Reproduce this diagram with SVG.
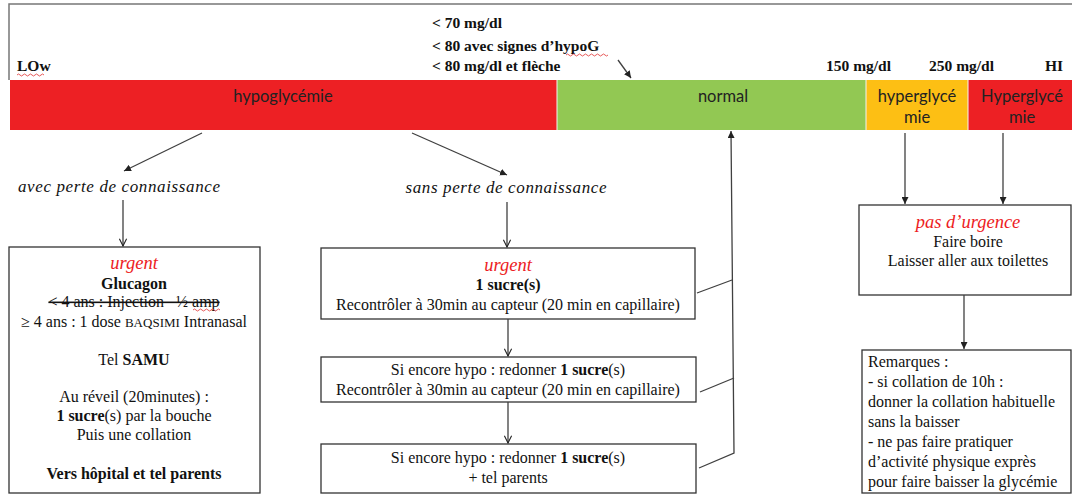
<svg xmlns="http://www.w3.org/2000/svg" width="1072" height="498" viewBox="0 0 1072 498">
<style>
.lbl{font-family:"Liberation Serif",serif;font-size:15.5px;font-weight:bold;fill:#111}
.bar{font-family:Lato,"Liberation Sans",sans-serif;font-size:16.5px;fill:#222;text-anchor:middle}
.it{font-family:"Liberation Serif",serif;font-size:17px;font-style:italic;fill:#111;text-anchor:middle}
.t{font-family:"Liberation Serif",serif;font-size:16px;fill:#111;text-anchor:middle}
.tl{font-family:"Liberation Serif",serif;font-size:16px;fill:#111}
.red{font-family:"Liberation Serif",serif;font-size:18.5px;font-style:italic;fill:#ED1C24;text-anchor:middle}
.b{font-weight:bold}
.box{fill:#fff;stroke:#333;stroke-width:1.3}
.c{fill:none;stroke:#404040;stroke-width:1.3}
.wavy{fill:none;stroke:#E03030;stroke-width:0.8}
</style>
<defs>
<marker id="fa" viewBox="0 0 8 8" refX="8" refY="4" markerWidth="7" markerHeight="7" markerUnits="userSpaceOnUse" orient="auto"><path d="M0,0 L8,4 L0,8 z" fill="#222"/></marker>
<marker id="oa" viewBox="0 0 10 10" refX="9" refY="5" markerWidth="9" markerHeight="9" markerUnits="userSpaceOnUse" orient="auto"><path d="M1,1 L9,5 L1,9" fill="none" stroke="#222" stroke-width="1.2"/></marker>
</defs>
<rect width="1072" height="498" fill="#fff"/>
<path d="M9,80 V4 H1072" fill="none" stroke="#777" stroke-width="1.5"/>

<g id="scale-labels">
<text class="lbl" x="432" y="28">&lt; 70 mg/dl</text>
<text class="lbl" x="432" y="51">&lt; 80 avec signes d’hypoG</text>
<text class="lbl" x="432" y="71">&lt; 80 mg/dl et flèche</text>
<text class="lbl" x="17" y="71">LOw</text>
<text class="lbl" x="826" y="71">150 mg/dl</text>
<text class="lbl" x="929" y="71">250 mg/dl</text>
<text class="lbl" x="1045" y="71">HI</text>
<path class="wavy" d="M17,75 q1.5,-2 3,0 t3,0 t3,0 t3,0 t3,0 t3,0 t3,0 t3,0 t3,0"/>
<path class="wavy" d="M566,55 q1.5,-2 3,0 t3,0 t3,0 t3,0 t3,0 t3,0 t3,0 t3,0 t3,0 t3,0 t3,0 t3,0 t3,0 t3,0"/>
</g>

<g id="bar">
<rect x="10" y="80" width="547" height="50" fill="#ED2024"/>
<rect x="557" y="80" width="309" height="50" fill="#92C853"/>
<rect x="866" y="80" width="102" height="50" fill="#FDBF14"/>
<rect x="968" y="80" width="104" height="50" fill="#ED2024"/>
<path d="M557,80 V130 M866,80 V130 M968,80 V130" stroke="#f3f3f3" stroke-width="1"/>
<text class="bar" x="283" y="102">hypoglycémie</text>
<text class="bar" x="723" y="102">normal</text>
<text class="bar" x="917" y="102">hyperglycé</text>
<text class="bar" x="917" y="123">mie</text>
<text class="bar" x="1022" y="102">Hyperglycé</text>
<text class="bar" x="1022" y="123">mie</text>
</g>

<g id="avec">
<text class="it" x="119" y="192" textLength="202" lengthAdjust="spacing">avec perte de connaissance</text>
</g>
<g id="sans">
<text class="it" x="506" y="193" textLength="201" lengthAdjust="spacing">sans perte de connaissance</text>
</g>

<g id="urgent-glucagon">
<rect class="box" x="9" y="247" width="251" height="246"/>
<text class="red" x="134" y="269">urgent</text>
<text class="t b" x="134" y="289">Glucagon</text>
<text class="t" x="134" y="307" text-decoration="line-through">&lt; 4 ans : Injection &#160; ½ amp</text>
<path class="wavy" d="M193,310 q1.5,-2 3,0 t3,0 t3,0 t3,0 t3,0 t3,0 t3,0 t3,0 t3,0"/>
<text class="t" x="134" y="327">≥ 4 ans : 1 dose <tspan font-size="13">BAQSIMI</tspan> Intranasal</text>
<text class="t" x="134" y="365">Tel <tspan class="b">SAMU</tspan></text>
<text class="t" x="134" y="402">Au réveil (20minutes) :</text>
<text class="t" x="134" y="421"><tspan class="b">1 sucre</tspan>(s) par la bouche</text>
<text class="t" x="134" y="440">Puis une collation</text>
<text class="t b" x="134" y="479">Vers hôpital et tel parents</text>
</g>

<g id="urgent-sucre">
<rect class="box" x="321" y="248" width="374" height="71"/>
<text class="red" x="508" y="271">urgent</text>
<text class="t b" x="508" y="290">1 sucre(s)</text>
<text class="t" x="508" y="310">Recontrôler à 30min au capteur (20 min en capillaire)</text>
</g>

<g id="encore-1">
<rect class="box" x="321" y="357" width="375" height="45"/>
<text class="t" x="508" y="375">Si encore hypo : redonner <tspan class="b">1 sucre</tspan>(s)</text>
<text class="t" x="508" y="395">Recontrôler à 30min au capteur (20 min en capillaire)</text>
</g>

<g id="encore-2">
<rect class="box" x="321" y="444" width="375" height="49"/>
<text class="t" x="508" y="463">Si encore hypo : redonner <tspan class="b">1 sucre</tspan>(s)</text>
<text class="t" x="508" y="483">+ tel parents</text>
</g>

<g id="pas-urgence">
<rect class="box" x="859" y="205" width="212" height="90"/>
<text class="red" x="968" y="228">pas d’urgence</text>
<text class="t" x="968" y="247">Faire boire</text>
<text class="t" x="968" y="266">Laisser aller aux toilettes</text>
</g>

<g id="remarques">
<rect class="box" x="862" y="350" width="209" height="143"/>
<text class="tl" x="868" y="367">Remarques :</text>
<text class="tl" x="868" y="387">- si collation de 10h :</text>
<text class="tl" x="868" y="407">donner la collation habituelle</text>
<text class="tl" x="868" y="427">sans la baisser</text>
<text class="tl" x="868" y="447">- ne pas faire pratiquer</text>
<text class="tl" x="868" y="467">d’activité physique exprès</text>
<text class="tl" x="868" y="487">pour faire baisser la glycémie</text>
</g>

<g id="connectors">
<path class="c" d="M618,60 L631,78" marker-end="url(#fa)"/>
<path class="c" d="M202,133 L124,171" marker-end="url(#fa)"/>
<path class="c" d="M412,133 L507,175" marker-end="url(#fa)"/>
<path class="c" d="M123,200 V246" marker-end="url(#oa)"/>
<path class="c" d="M507,202 V247" marker-end="url(#oa)"/>
<path class="c" d="M508,319 V356" marker-end="url(#oa)"/>
<path class="c" d="M508,402 V443" marker-end="url(#oa)"/>
<path class="c" d="M699,468 L734,453 L731,131" marker-end="url(#fa)"/>
<path class="c" d="M697,293 L732,280"/>
<path class="c" d="M700,392 L734,378"/>
<path class="c" d="M905,133 V204" marker-end="url(#fa)"/>
<path class="c" d="M1003,133 V204" marker-end="url(#fa)"/>
<path class="c" d="M964,295 V349" marker-end="url(#fa)"/>
</g>
</svg>
